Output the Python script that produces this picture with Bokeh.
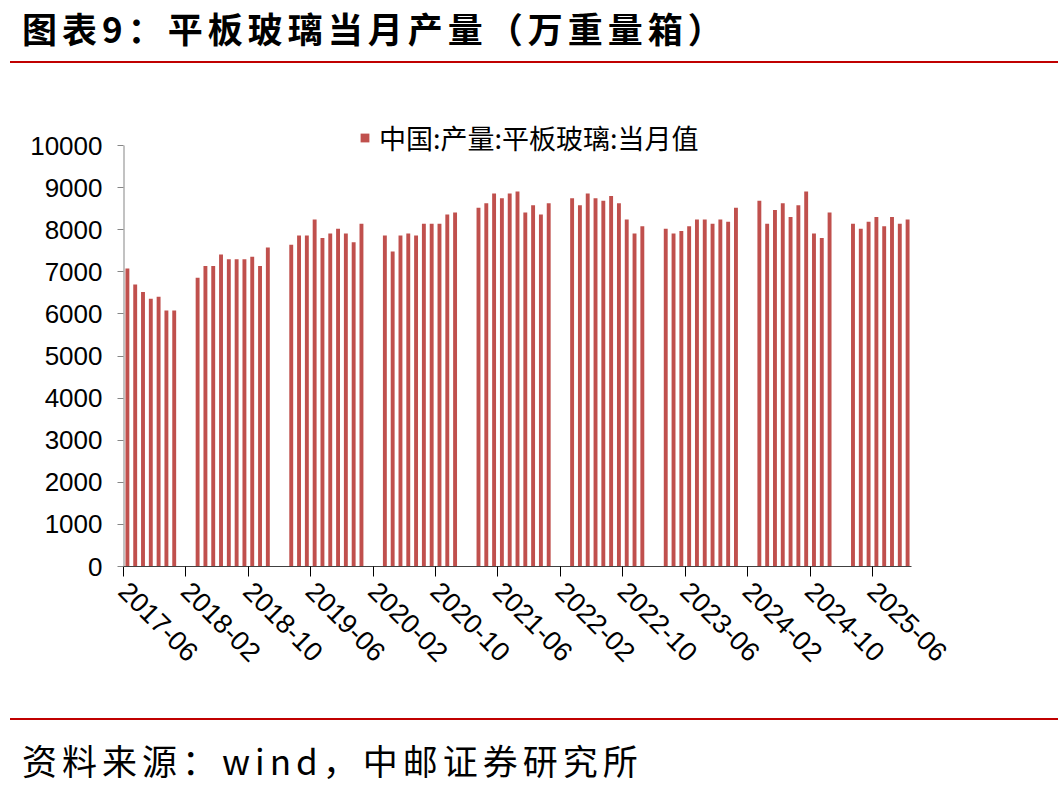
import math
from bokeh.plotting import figure
from bokeh.layouts import column
from bokeh.models import Range1d, FixedTicker, ColumnDataSource, Legend, LegendItem, Div
from bokeh.embed import file_html
from bokeh.resources import INLINE

# ---- data (万重量箱), monthly 2017-06 .. 2025-10; Jan/Feb not published ----
months = []
for y in range(2017, 2026):
    for m in range(1, 13):
        if (y == 2017 and m < 6) or (y == 2025 and m > 10):
            continue
        months.append(f"{y}-{m:02d}")

values_2017 = [7080, 6700, 6520, 6360, 6410, 6080, 6080]            # 06-12
values_2018 = [6860, 7140, 7140, 7410, 7300, 7300, 7300, 7360, 7140, 7580]  # 03-12
values_2019 = [7640, 7860, 7860, 8240, 7800, 7910, 8020, 7910, 7700, 8140]
values_2020 = [7860, 7480, 7860, 7910, 7860, 8140, 8140, 8140, 8360, 8410]
values_2021 = [8520, 8630, 8860, 8750, 8860, 8910, 8410, 8580, 8360, 8630]
values_2022 = [8750, 8580, 8860, 8750, 8690, 8800, 8630, 8240, 7910, 8080]
values_2023 = [8020, 7910, 7970, 8080, 8240, 8240, 8140, 8240, 8190, 8520]
values_2024 = [8690, 8140, 8470, 8630, 8300, 8580, 8910, 7910, 7800, 8410]
values_2025 = [8140, 8020, 8190, 8300, 8080, 8300, 8140, 8240]       # 03-10

series_name = "中国:产量:平板玻璃:当月值"
title_text = "图表9：平板玻璃当月产量（万重量箱）"
source_text = "资料来源：wind，中邮证券研究所"
y_ticks = list(range(0, 10001, 1000))
y_axis_max = 10000
tick_step = 8

by_year = {2017: values_2017, 2018: values_2018, 2019: values_2019, 2020: values_2020,
           2021: values_2021, 2022: values_2022, 2023: values_2023, 2024: values_2024,
           2025: values_2025}
xs, tops = [], []
counters = {k: 0 for k in by_year}
for i, mo in enumerate(months):
    y, m = int(mo[:4]), int(mo[5:])
    if m in (1, 2):
        continue
    xs.append(i + 0.5)
    tops.append(by_year[y][counters[y]])
    counters[y] += 1

BAR = "#C0504D"
RED = "#C00000"
W = 1060

# ---- header ----
header = Div(width=W, height=70, margin=0, text=(
    f'<div style="padding:0 0 0 22px;height:61px;margin:0;font-family:\'Noto Sans CJK SC\';'
    f'font-size:35px;font-weight:bold;letter-spacing:5px;line-height:56px;white-space:nowrap;'
    f'color:#000">{title_text}</div>'
    f'<div style="margin:0 0 0 10px;width:1048px;height:2px;background:{RED}"></div>'))

# ---- main chart ----
FRAME_TOP = 35      # px from top of the chart figure
FRAME_H = 461       # frame height in px
AXIS_PX = 421       # px spanned by 0..10000
y_top = y_axis_max * FRAME_H / AXIS_PX

p = figure(width=W, height=645, x_range=Range1d(0, len(months)), y_range=Range1d(0, y_top),
           toolbar_location=None, output_backend="svg", margin=0,
           min_border_left=123, min_border_right=149, min_border_top=FRAME_TOP,
           min_border_bottom=645 - FRAME_TOP - FRAME_H)
p.grid.visible = False
p.outline_line_color = None
src = ColumnDataSource(dict(x=xs, top=tops))
r = p.vbar(x="x", top="top", width=0.5, source=src, fill_color=BAR, line_color=None)
# y axis line only up to 10000
p.segment(x0=[0], y0=[0], x1=[0], y1=[y_axis_max], line_color="#868686", line_width=2)

p.yaxis.ticker = FixedTicker(ticks=y_ticks)
p.yaxis.major_label_text_font = "Liberation Sans"
p.yaxis.major_label_text_font_size = "26px"
p.yaxis.major_label_text_color = "black"
p.yaxis.axis_line_color = None
p.yaxis.major_tick_line_color = "#868686"
p.yaxis.major_tick_out = 6
p.yaxis.major_tick_in = 0
p.yaxis.minor_tick_line_color = None
p.yaxis.major_label_standoff = 15

xt = list(range(0, len(months), tick_step))
p.xaxis.ticker = FixedTicker(ticks=xt)
p.xaxis.major_label_overrides = {t: months[t] for t in xt}
p.xaxis.major_label_orientation = -math.pi / 4
p.xaxis.major_label_text_font = "Liberation Sans"
p.xaxis.major_label_text_font_size = "27px"
p.xaxis.major_label_text_color = "black"
p.xaxis.axis_line_color = "#404040"
p.xaxis.major_tick_line_color = "black"
p.xaxis.major_tick_out = 10
p.xaxis.major_tick_in = 0
p.xaxis.minor_tick_line_color = None
p.xaxis.major_label_standoff = 10

legend = Legend(items=[LegendItem(label=series_name, renderers=[r])],
                location=(236, 409), padding=0, margin=0, border_line_color=None,
                background_fill_alpha=0, glyph_width=11, glyph_height=11,
                label_standoff=9, label_text_font="Noto Sans CJK SC",
                label_text_font_size="27px", label_text_color="black")
p.add_layout(legend)

# ---- footer ----
footer = Div(width=W, height=79, margin=0, text=(
    f'<div style="margin:3px 0 0 10px;width:1048px;height:2px;background:{RED}"></div>'
    f'<div style="margin:20px 0 0 22px;font-family:\'Noto Sans CJK SC\';font-size:35px;'
    f'letter-spacing:5px;line-height:40px;white-space:nowrap;color:#000">{source_text}</div>'))

layout = column(header, p, footer, spacing=0)
open("out.html", "w").write(file_html(layout, INLINE))
